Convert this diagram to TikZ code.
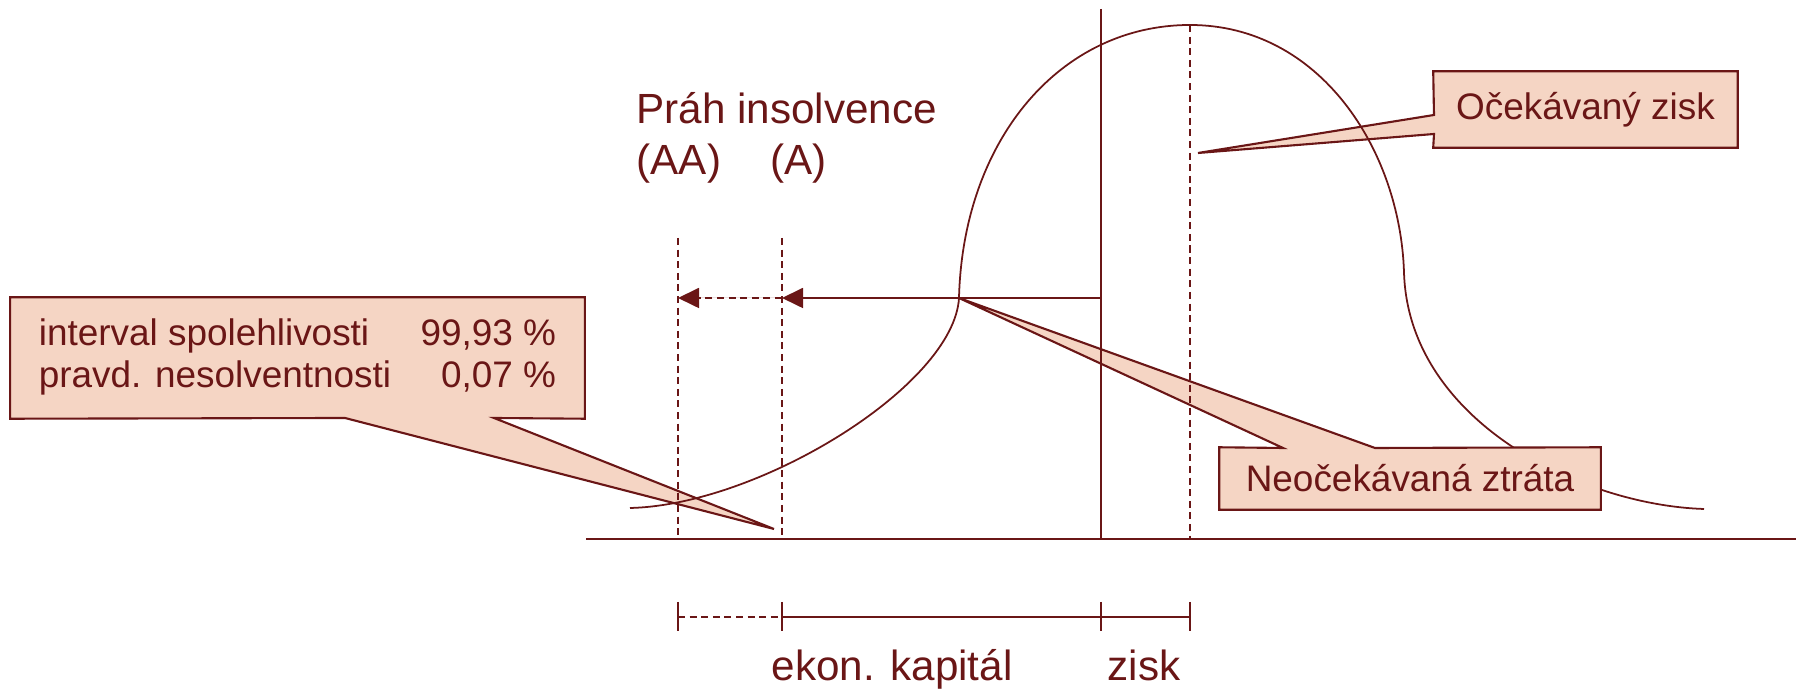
\documentclass[tikz,border=0pt]{standalone}
\usepackage{fontspec}
\setmainfont{Liberation Sans}
\usetikzlibrary{arrows.meta,backgrounds}
\definecolor{darkline}{HTML}{6A1616}
\definecolor{calloutfill}{HTML}{F5D5C4}
\tikzset{
  axisline/.style={draw=darkline, line width=0.5pt},
  guideline/.style={axisline, dash pattern=on 2pt off 1.3pt},
  callbox/.style={fill=calloutfill, inner sep=0pt, text=darkline,
                  font=\fontsize{10.5}{12}\selectfont},
  calledge/.style={draw=darkline, line width=0.6pt},
  biglabel/.style={font=\fontsize{12}{14}\selectfont, text=darkline, inner sep=0pt},
  tailtip/.style={-{Triangle[length=0.21cm, width=0.2cm]}},
}

\begin{document}
\begin{tikzpicture}[x=0.01cm, y=-0.01cm]
  \useasboundingbox (0,0) rectangle (1802,689);

  % key points of the density curve
  \coordinate (start) at (630,508);
  \coordinate (infl)  at (959,298);
  \coordinate (peak)  at (1190,25);
  \coordinate (inflr) at (1404,272);
  \coordinate (tail)  at (1704,509);

  % axis and guide lines
  \coordinate (axl) at (586,539);
  \coordinate (axr) at (1796,539);
  \coordinate (vtop) at (1101,9);
  \coordinate (vbot) at (1101,539);
  \coordinate (peakbot) at (1190,539);
  \coordinate (aatop) at (678,238);
  \coordinate (aabot) at (678,539);
  \coordinate (atop) at (782,238);
  \coordinate (abot) at (782,539);
  \coordinate (vmid) at (1101,298);
  \coordinate (amid) at (782,298);
  \coordinate (aamid) at (678,298);

  \draw[axisline] (axl) -- (axr);
  \draw[axisline] (vtop) -- (vbot);
  \draw[guideline] (peak) -- (peakbot);
  \draw[guideline] (aatop) -- (aabot);
  \draw[guideline] (atop) -- (abot);

  \draw[axisline] (start) .. controls (760,505) and (954,385) .. (infl)
    .. controls (963,140) and (1060,25) .. (peak)
    .. controls (1320,25) and (1400,150) .. (inflr)
    .. controls (1408,420) and (1580,505) .. (tail);

  \draw[axisline, tailtip, fill=darkline] (vmid) -- (amid);
  \draw[guideline, tailtip, fill=darkline] (amid) -- (aamid);

  % labels
  \node[biglabel, anchor=base west] (prah) at (636,124) {Práh insolvence};
  \node[biglabel, anchor=base west] (aa) at (636,175) {(AA)};
  \node[biglabel, anchor=base west] (a) at (770,175) {(A)};

  % dimension line
  \coordinate (d0) at (678,617);
  \coordinate (d1) at (782,617);
  \coordinate (d2) at (1101,617);
  \coordinate (d3) at (1190,617);
  \draw[guideline] (d0) -- (d1);
  \draw[axisline] (d1) -- (d3);
  \foreach \p in {d0,d1,d2,d3}
    \draw[axisline] ([yshift=0.15cm]\p) -- ([yshift=-0.14cm]\p);
  \node[biglabel, anchor=base west] (kap) at (771,681) {ekon. kapitál};
  \node[biglabel, anchor=base west] (zisk) at (1107,681) {zisk};

  % callouts
  \node[callbox, minimum width=3.03cm, minimum height=0.75cm] (ozbox)
    at (1585.5,109.5) {Očekávaný zisk};
  \coordinate (oz1) at (1434,134);
  \coordinate (oz2) at (1434,115);
  \coordinate (oztip) at (1198,153);
  \draw[calledge] (ozbox.north west) -- (ozbox.north east) -- (ozbox.south east)
    -- (ozbox.south west) -- (oz1) -- (oztip) -- (oz2) -- cycle;

  \node[callbox, minimum width=3.8cm, minimum height=0.61cm] (nzbox)
    at (1410,478.5) {Neočekávaná ztráta};
  \coordinate (nz1) at (1283,448);
  \coordinate (nz2) at (1375,448);
  \draw[calledge] (nzbox.north west) -- (nz1) -- (infl) -- (nz2)
    -- (nzbox.north east) -- (nzbox.south east) -- (nzbox.south west) -- cycle;

  \node[callbox, minimum width=5.73cm, minimum height=1.2cm] (ivbox) at (297.5,358)
    {\begin{tabular*}{5.17cm}{@{}l@{\extracolsep{\fill}}r@{}}
       interval spolehlivosti & 99,93 \%\\
       pravd. nesolventnosti & 0,07 \%
     \end{tabular*}\hspace{0.14cm}};
  \coordinate (iv1) at (345,418);
  \coordinate (iv2) at (494,418);
  \coordinate (ivtip) at (774,529);
  \draw[calledge] (ivbox.north west) -- (ivbox.north east) -- (ivbox.south east)
    -- (iv2) -- (ivtip) -- (iv1) -- (ivbox.south west) -- cycle;

  \begin{scope}[on background layer]
    \fill[calloutfill] (oz1) -- (oztip) -- (oz2) -- cycle;
    \fill[calloutfill] (nz1) -- (infl) -- (nz2) -- cycle;
    \fill[calloutfill] (iv1) -- (ivtip) -- (iv2) -- cycle;
  \end{scope}
\end{tikzpicture}
\end{document}
